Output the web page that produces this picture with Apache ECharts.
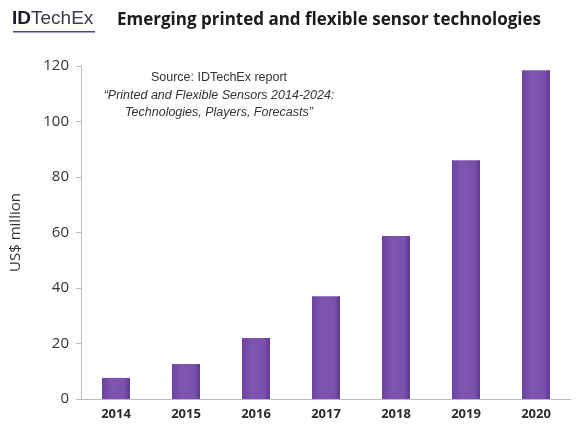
<!DOCTYPE html>
<html>
<head>
<meta charset="utf-8">
<script src="https://cdn.jsdelivr.net/npm/echarts@6/dist/echarts.min.js"></script>
<style>html,body{margin:0;padding:0;background:#fff}#c{width:583px;height:428px}</style>
</head>
<body>
<div id="c"></div>
<script>
var categories = ['2014','2015','2016','2017','2018','2019','2020'];
var values = [7.6, 12.6, 22, 37, 58.7, 86, 118.5];
var yTicks = [0, 20, 40, 60, 80, 100, 120];
var titleText = 'Emerging printed and flexible sensor technologies';
var sourceLines = ['Source: IDTechEx report', '\u201cPrinted and Flexible Sensors 2014-2024:', 'Technologies, Players, Forecasts\u201d'];
var yName = 'US$ million';

var chart = echarts.init(document.getElementById('c'), null, {renderer: 'canvas'});
chart.setOption({
  animation: false,
  backgroundColor: '#fff',
  title: {
    text: titleText,
    left: 112, top: 7,
    textStyle: {fontFamily: 'Open Sans', fontWeight: 'bold', fontSize: 17, color: '#1a1a1a'}
  },
  graphic: [
    {type: 'text', left: 12, top: 9, style: {
      text: '{a|ID}{b|TechEx}',
      rich: {
        a: {fontFamily: 'Liberation Sans', fontWeight: 'bold', fontSize: 19, fill: '#1b1b2e'},
        b: {fontFamily: 'Liberation Sans', fontWeight: 'normal', fontSize: 19, fill: '#3a3a48'}
      }
    }},
    {type: 'rect', left: 13, top: 31, shape: {width: 82, height: 1.5}, style: {fill: '#4a4580'}},
    {type: 'text', x: 219, y: 78, style: {text: sourceLines[0], textAlign: 'center', textVerticalAlign: 'middle', fontFamily: 'Liberation Sans', fontSize: 12.5, fill: '#333'}},
    {type: 'text', x: 219, y: 96, style: {text: sourceLines[1], textAlign: 'center', textVerticalAlign: 'middle', fontFamily: 'Liberation Sans', fontStyle: 'italic', fontSize: 12.5, fill: '#333'}},
    {type: 'text', x: 219, y: 113, style: {text: sourceLines[2], textAlign: 'center', textVerticalAlign: 'middle', fontFamily: 'Liberation Sans', fontStyle: 'italic', fontSize: 12.5, fill: '#333'}}
  ],
  grid: {left: 81, right: 12, top: 66, bottom: 29, containLabel: false},
  xAxis: {
    type: 'category', data: categories,
    axisLine: {lineStyle: {color: '#bcbcbc', width: 1}},
    axisTick: {show: false},
    axisLabel: {fontFamily: 'Open Sans', fontWeight: 'bold', fontSize: 13, color: '#2b2b2b', margin: 9}
  },
  yAxis: {
    type: 'value', min: 0, max: 120, interval: 20,
    name: yName, nameLocation: 'middle', nameGap: 58,
    nameTextStyle: {fontFamily: 'Open Sans', fontSize: 15, color: '#333'},
    axisLine: {show: true, lineStyle: {color: '#bcbcbc'}},
    axisTick: {show: true, inside: false, length: 5, lineStyle: {color: '#bcbcbc'}},
    splitLine: {show: false},
    axisLabel: {fontFamily: 'Open Sans', fontSize: 15, color: '#333', margin: 12,
      formatter: function (v) { return yTicks.indexOf(v) >= 0 ? String(v) : ''; }}
  },
  series: [{
    type: 'bar', data: values, barWidth: 28,
    itemStyle: {color: new echarts.graphic.LinearGradient(0, 0, 1, 0, [
      {offset: 0, color: '#6d42a0'},
      {offset: 0.35, color: '#7f55b1'},
      {offset: 0.8, color: '#7a50ac'},
      {offset: 1, color: '#5e3790'}
    ])}
  }]
});
</script>
</body>
</html>
